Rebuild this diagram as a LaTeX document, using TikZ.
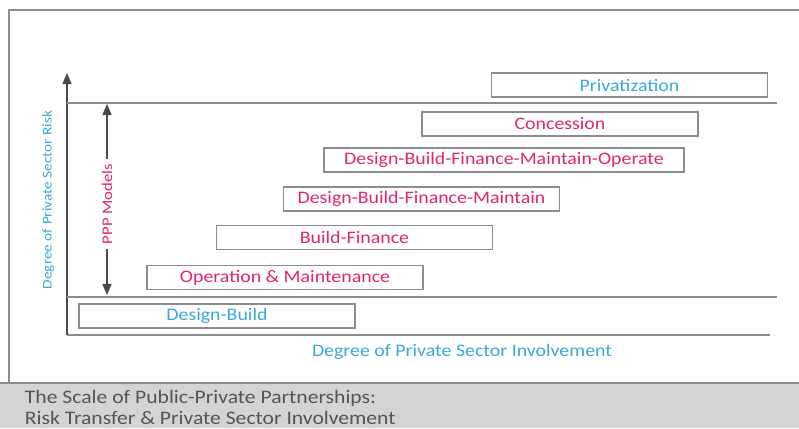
\documentclass[tikz,border=0pt]{standalone}
\usepackage{fontspec}
\setmainfont{Carlito}[FakeStretch=1.13]
\usetikzlibrary{positioning,arrows,calc}
\definecolor{riskblue}{HTML}{3AA9DA}
\definecolor{pppred}{HTML}{E2246E}
\definecolor{linegray}{HTML}{8C8C8C}
\definecolor{arrowgray}{HTML}{4A4A4A}
\definecolor{bandgray}{HTML}{D2D4D6}
\definecolor{captiongray}{HTML}{555555}

\begin{document}
\begin{tikzpicture}[x=0.025cm, y=-0.025cm,
    model/.style={draw=linegray, line width=0.9pt, minimum width=6.9cm, minimum height=0.6cm, inner sep=0pt, font=\fontsize{12.5}{14}\selectfont},
    axisline/.style={draw=linegray, line width=0.9pt},
    tip/.style={arrowgray, -triangle 45, line width=0.8pt}]
    \useasboundingbox (0,0) rectangle (799,428);
    % frame and caption band
    \fill[bandgray] (0,383) rectangle (799,428);
    \draw[linegray, line width=1.2pt] (0,383) -- (799,383);
    \draw[linegray, line width=0.8pt] (799,10) -- (9,10) -- (9,383);
    \node[anchor=west, align=left, text=captiongray, font=\fontsize{13.6}{15.5}\selectfont] (caption) at (20,407.5) {The Scale of Public-Private Partnerships:\\Risk Transfer \& Private Sector Involvement};

    % axes
    \coordinate (origin) at (67,335);
    \coordinate (ytop) at (67,73);
    \coordinate (xend) at (770,335);
    \draw[axisline] (origin) -- (xend);
    \draw[tip] (origin) -- (ytop);
    \draw[axisline] (67,103) coordinate (hi) -- (777,103);
    \draw[axisline] (67,297) coordinate (lo) -- (777,297);
    \node[rotate=90, text=riskblue, font=\fontsize{9.6}{12}\selectfont] (ylabel) at (48,200) {Degree of Private Sector Risk};
    \node[text=riskblue, font=\fontsize{12.5}{14}\selectfont] (xlabel) at (462,352) {Degree of Private Sector Involvement};

    % range of the ppp models
    \node[rotate=90, text=pppred, font=\fontsize{10.5}{13}\selectfont] (ppp) at (107,204) {PPP Models};
    \coordinate (ppptop) at (107,104);
    \coordinate (pppbot) at (107,295);
    \draw[tip] (ppp.east) -- (ppptop);
    \draw[tip] (ppp.west) -- (pppbot);

    % the models, least to most private risk
    \node[model, text=riskblue] (db) at (217,316) {Design-Build};
    \node[model, text=pppred] (om) at (285,277.5) {Operation \& Maintenance};
    \node[model, text=pppred] (bf) at (354.5,237.5) {Build-Finance};
    \node[model, text=pppred] (dbfm) at (421.5,199) {Design-Build-Finance-Maintain};
    \node[model, text=pppred, minimum width=9cm] (dbfmo) at (504,160) {Design-Build-Finance-Maintain-Operate};
    \node[model, text=pppred] (conc) at (560,124) {Concession};
    \node[model, text=riskblue] (priv) at (629.5,85) {Privatization};
\end{tikzpicture}
\end{document}
